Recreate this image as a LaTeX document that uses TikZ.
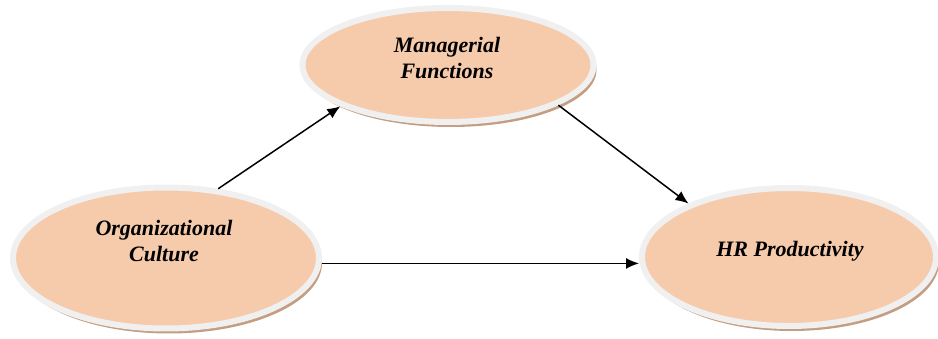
\documentclass[tikz,border=0pt]{standalone}
\usepackage{fontspec}
\setmainfont{Liberation Serif}
\usepackage{tikz}
\usetikzlibrary{shapes.geometric, shadows, arrows.meta}
\definecolor{peach}{RGB}{246, 203, 171}
\definecolor{rim}{RGB}{240, 240, 240}
\definecolor{shade}{RGB}{196, 158, 130}

\begin{document}
\begin{tikzpicture}[x=1pt, y=-1pt, thick,
    oval/.style={ellipse, fill=peach, draw=rim, line width=6pt,
                 drop shadow={shadow xshift=3pt, shadow yshift=-5pt,
                              fill=shade, opacity=1}},
    word/.style={align=center, font=\fontsize{22}{26}\selectfont\bfseries\itshape},
    link/.style={line width=1.5pt, -{Latex[length=13pt, width=11pt]}}]
  \useasboundingbox (0, 0) rectangle (938, 339);

  \node[oval, minimum width=291pt, minimum height=114pt] (mf) at (448, 65) {};
  \node[oval, minimum width=306pt, minimum height=141pt] (oc) at (166, 258) {};
  \node[oval, minimum width=294pt, minimum height=138pt] (hr) at (789, 257) {};

  \node[word] (mf-text) at (447, 58) {Managerial\\Functions};
  \node[word] (oc-text) at (164, 241) {Organizational\\Culture};
  \node[word] (hr-text) at (790, 251) {HR Productivity};

  \draw[link] (oc.53) -- (mf.201);
  \draw[link] (mf.340) -- (hr.152);
  \draw[link] (oc.-2) -- (oc.-2 -| hr.west);
\end{tikzpicture}
\end{document}
